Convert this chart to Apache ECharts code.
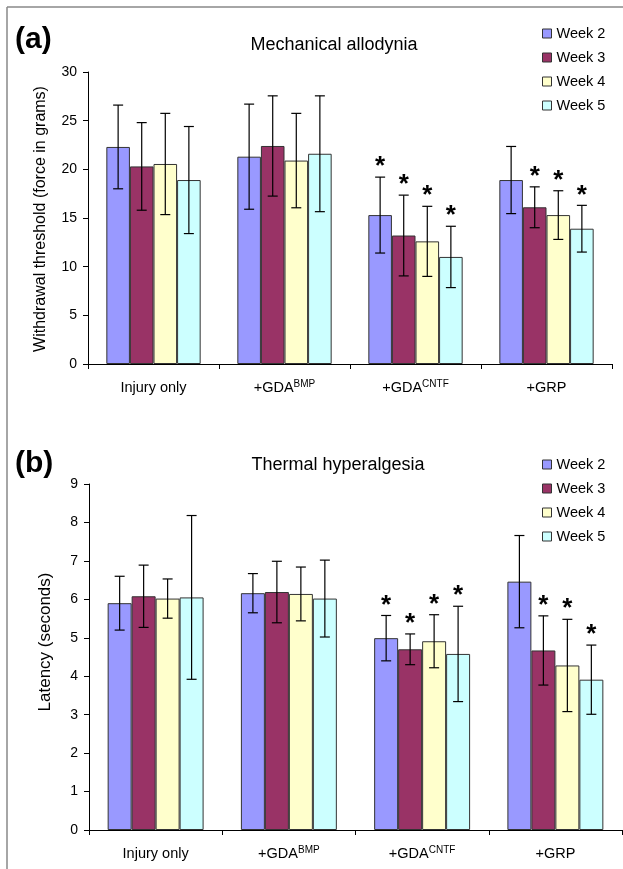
<!DOCTYPE html>
<html><head><meta charset="utf-8">
<script src="https://cdn.jsdelivr.net/npm/echarts@6/dist/echarts.min.js"></script>
<style>html,body{margin:0;padding:0;background:#fff}#c{width:623px;height:869px}</style>
</head><body><div id="c"></div>
<script>
const categories = ['Injury only', '+GDA BMP', '+GDA CNTF', '+GRP'];
const weeks = ['Week 2', 'Week 3', 'Week 4', 'Week 5'];
const weekColors = ['#9999ff', '#993366', '#ffffcc', '#ccffff'];

// (a) Mechanical allodynia: mean withdrawal threshold (g)
const mechW2 = [22.3, 21.3, 15.3, 18.9];
const mechW3 = [20.3, 22.4, 13.2, 16.1];
const mechW4 = [20.55, 20.9, 12.6, 15.3];
const mechW5 = [18.9, 21.6, 11.0, 13.9];
const mechSdW2 = [4.3, 5.4, 3.9, 3.45];
const mechSdW3 = [4.5, 5.15, 4.15, 2.1];
const mechSdW4 = [5.2, 4.85, 3.6, 2.5];
const mechSdW5 = [5.5, 5.95, 3.15, 2.4];

// (b) Thermal hyperalgesia: mean latency (s)
const thermW2 = [5.90, 6.16, 4.99, 6.46];
const thermW3 = [6.08, 6.19, 4.70, 4.67];
const thermW4 = [6.02, 6.14, 4.91, 4.28];
const thermW5 = [6.05, 6.02, 4.58, 3.91];
const thermSdW2 = [0.70, 0.51, 0.59, 1.20];
const thermSdW3 = [0.81, 0.80, 0.40, 0.90];
const thermSdW4 = [0.51, 0.70, 0.69, 1.20];
const thermSdW5 = [2.13, 1.00, 1.24, 0.90];

// significance markers (*)
const sigW2 = [0, 0, 1, 0];
const sigW3 = [0, 0, 1, 1];
const sigW4 = [0, 0, 1, 1];
const sigW5 = [0, 0, 1, 1];

const mechTicks = {min: 0, max: 30, interval: 5};
const thermTicks = {min: 0, max: 9, interval: 1};

const FONT = '"Liberation Sans", Arial, Helvetica, sans-serif';
const GAP = 0.28;

const mechMeans = [mechW2, mechW3, mechW4, mechW5];
const mechSds = [mechSdW2, mechSdW3, mechSdW4, mechSdW5];
const thermMeans = [thermW2, thermW3, thermW4, thermW5];
const thermSds = [thermSdW2, thermSdW3, thermSdW4, thermSdW5];
const sigs = [sigW2, sigW3, sigW4, sigW5];

function catFormatter(v) {
  if (v.indexOf('+GDA ') === 0) return '{m|+GDA}{s|' + v.slice(5) + '}';
  return '{m|' + v + '}';
}

function makeXAxis(gi) {
  return {
    type: 'category', gridIndex: gi, data: categories,
    axisLine: {lineStyle: {color: '#000', width: 1}},
    axisTick: {show: true, length: 5, lineStyle: {color: '#000'}},
    axisLabel: {
      interval: 0, margin: 15, formatter: catFormatter,
      rich: {
        m: {fontFamily: FONT, fontSize: 14.5, color: '#000', lineHeight: 17},
        s: {fontFamily: FONT, fontSize: 10, color: '#000', verticalAlign: 'top', lineHeight: 11}
      }
    },
    splitLine: {show: false}
  };
}
function makeYAxis(gi, t) {
  return {
    type: 'value', gridIndex: gi, min: t.min, max: t.max, interval: t.interval,
    axisLine: {show: true, lineStyle: {color: '#000', width: 1}},
    axisTick: {show: true, length: 5, lineStyle: {color: '#000'}},
    axisLabel: {fontFamily: FONT, fontSize: 14, color: '#000', margin: 11},
    splitLine: {show: false}
  };
}

function errRender(wi) {
  return function (params, api) {
    const cat = api.value(0), mean = api.value(1), sd = api.value(2), sig = api.value(3);
    const c = api.coord([cat, mean]);
    const band = api.size([1, 0])[0];
    const gw = band * (1 - GAP);
    const bw = gw / 4;
    const x = c[0] - gw / 2 + bw * (wi + 0.5);
    const yHi = api.coord([cat, mean + sd])[1];
    const yLo = api.coord([cat, mean - sd])[1];
    const st = {stroke: '#000', lineWidth: 1.2};
    const h = 5;
    const ch = [
      {type: 'line', shape: {x1: x, y1: yHi, x2: x, y2: yLo}, style: st},
      {type: 'line', shape: {x1: x - h, y1: yHi, x2: x + h, y2: yHi}, style: st},
      {type: 'line', shape: {x1: x - h, y1: yLo, x2: x + h, y2: yLo}, style: st}
    ];
    if (sig) {
      ch.push({type: 'text', x: x, y: yHi - 10, style: {
        text: '*', font: 'bold 26px ' + FONT, fill: '#000',
        align: 'center', verticalAlign: 'middle', textAlign: 'center', textVerticalAlign: 'middle'
      }});
    }
    return {type: 'group', children: ch};
  };
}

const series = [];
[[mechMeans, mechSds, 0], [thermMeans, thermSds, 1]].forEach(([means, sds, gi]) => {
  weeks.forEach((w, wi) => {
    series.push({
      type: 'bar', name: w, xAxisIndex: gi, yAxisIndex: gi,
      data: means[wi], barGap: '0%', barCategoryGap: (GAP * 100) + '%',
      itemStyle: {color: weekColors[wi], borderColor: '#333', borderWidth: 1},
      emphasis: {disabled: true}, animation: false
    });
  });
  weeks.forEach((w, wi) => {
    series.push({
      type: 'custom', name: 'err' + gi + wi, xAxisIndex: gi, yAxisIndex: gi, z: 5,
      renderItem: errRender(wi),
      encode: {x: 0, y: 1},
      data: categories.map((c, ci) => [ci, means[wi][ci], sds[wi][ci], sigs[wi][ci]]),
      animation: false, silent: true
    });
  });
});

function legendAt(top) {
  return {
    data: weeks, orient: 'vertical', left: 542, top: top, padding: 0,
    itemWidth: 9, itemHeight: 9, itemGap: 9, icon: 'rect', selectedMode: false,
    itemStyle: {borderColor: '#333', borderWidth: 1},
    textStyle: {fontFamily: FONT, fontSize: 14.5, lineHeight: 14, color: '#000'}
  };
}

const option = {
  backgroundColor: '#fff',
  animation: false,
  title: [
    {text: 'Mechanical allodynia', left: 329, top: 31, textAlign: 'center',
     textStyle: {fontFamily: FONT, fontSize: 18, fontWeight: 'normal', color: '#000'}},
    {text: 'Thermal hyperalgesia', left: 333, top: 451, textAlign: 'center',
     textStyle: {fontFamily: FONT, fontSize: 18, fontWeight: 'normal', color: '#000'}}
  ],
  legend: [legendAt(26), legendAt(457)],
  grid: [
    {left: 88, top: 72, width: 524, height: 292},
    {left: 89, top: 484, width: 533, height: 346}
  ],
  xAxis: [makeXAxis(0), makeXAxis(1)],
  yAxis: [makeYAxis(0, mechTicks), makeYAxis(1, thermTicks)],
  graphic: [
    {type: 'line', shape: {x1: 7, y1: 7, x2: 7, y2: 869}, style: {stroke: '#888', lineWidth: 1.5}},
    {type: 'line', shape: {x1: 7, y1: 7, x2: 623, y2: 7}, style: {stroke: '#888', lineWidth: 1.5}},
    {type: 'text', x: 15, y: 40, style: {text: '(a)', font: 'bold 30px ' + FONT, fill: '#000', textVerticalAlign: 'middle', verticalAlign: 'middle'}},
    {type: 'text', x: 15, y: 464, style: {text: '(b)', font: 'bold 30px ' + FONT, fill: '#000', textVerticalAlign: 'middle', verticalAlign: 'middle'}},
    {type: 'text', x: 41, y: 219, rotation: Math.PI / 2, style: {text: 'Withdrawal threshold (force in grams)', font: '16px ' + FONT, fill: '#000', textAlign: 'center', align: 'center', textVerticalAlign: 'middle', verticalAlign: 'middle'}},
    {type: 'text', x: 45, y: 642, rotation: Math.PI / 2, style: {text: 'Latency (seconds)', font: '17px ' + FONT, fill: '#000', textAlign: 'center', align: 'center', textVerticalAlign: 'middle', verticalAlign: 'middle'}}
  ],
  series: series
};

const chart = echarts.init(document.getElementById('c'), null, {renderer: 'canvas'});
chart.setOption(option);
</script>
</body></html>
